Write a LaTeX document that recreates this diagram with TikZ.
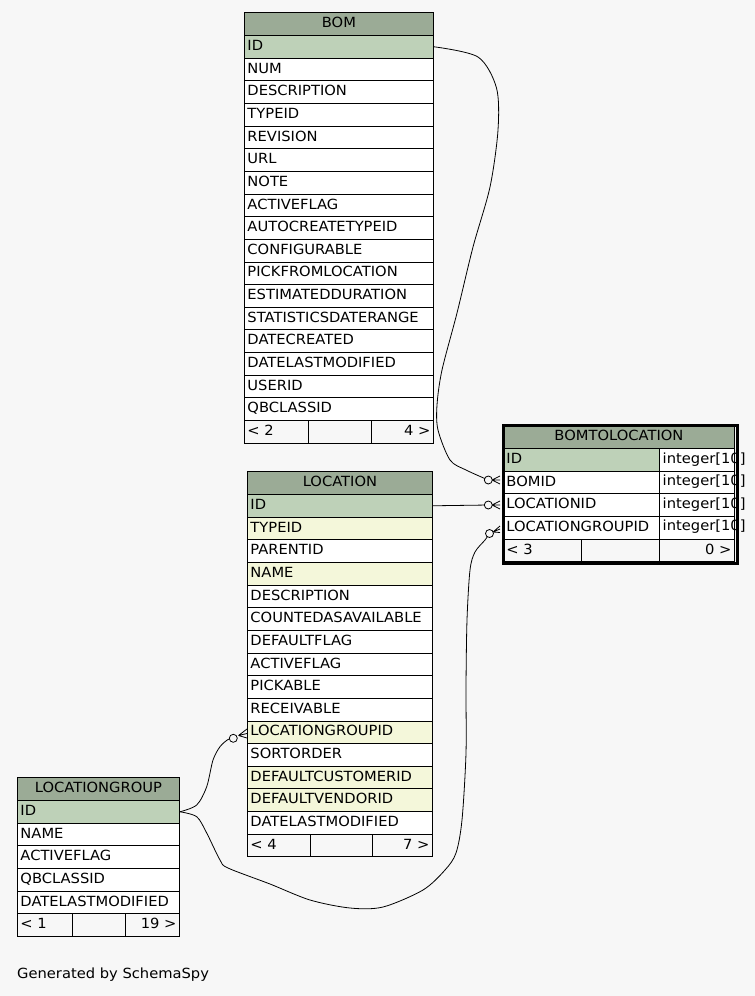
\documentclass[tikz,border=0pt]{standalone}
\usepackage{fontspec}
\setmainfont[FakeStretch=1.05]{DejaVu Sans}
\definecolor{bg}{HTML}{F7F7F7}
\definecolor{hd}{HTML}{9BAB96}
\definecolor{pk}{HTML}{BED1B8}
\definecolor{ix}{HTML}{F4F7DA}
\tikzset{
  txt/.style={font=\fontsize{14}{16}\selectfont},
  cell/.style={txt, draw=black, line width=0.9pt, anchor=north west, inner xsep=3pt, inner ysep=0pt,
    minimum height=22.65pt, text height=10pt, text depth=2.6pt},
  hcell/.style={cell, fill=hd, minimum height=23pt, align=center},
  fcell/.style={cell, fill=bg},
  conn/.style={draw=black, line width=0.8pt},
  odot/.style={circle, draw=black, fill=bg, line width=0.8pt, minimum size=8pt, inner sep=0pt},
  label/.style={txt, anchor=base west, inner sep=0pt},
}
\begin{document}
\begin{tikzpicture}[x=1pt, y=-1pt]
\fill[bg] (0,0) rectangle (755,996);
\useasboundingbox (0,0) rectangle (755,996);

% ---------- BOM ----------
\node[hcell, text width=183pt] (bom-h) at (244,12) {BOM};
\foreach \t/\c [count=\i] in {ID/pk, NUM/white, DESCRIPTION/white, TYPEID/white, REVISION/white, URL/white, NOTE/white, ACTIVEFLAG/white, AUTOCREATETYPEID/white, CONFIGURABLE/white, PICKFROMLOCATION/white, ESTIMATEDDURATION/white, STATISTICSDATERANGE/white, DATECREATED/white, DATELASTMODIFIED/white, USERID/white, QBCLASSID/white}
  \node[cell, fill=\c, text width=183pt, align=left] (bom-\i) at (244,{35+22.65*(\i-1)}) {\t};
\node[fcell, text width=58pt, align=left] (bom-fl) at (244,420) {< 2};
\node[fcell, minimum width=63pt] (bom-fm) at (308,420) {};
\node[fcell, text width=56pt, align=right] (bom-fr) at (371,420) {4 >};

% ---------- LOCATION ----------
\node[hcell, text width=179pt] (loc-h) at (247,471) {LOCATION};
\foreach \t/\c [count=\i] in {ID/pk, TYPEID/ix, PARENTID/white, NAME/ix, DESCRIPTION/white, COUNTEDASAVAILABLE/white, DEFAULTFLAG/white, ACTIVEFLAG/white, PICKABLE/white, RECEIVABLE/white, LOCATIONGROUPID/ix, SORTORDER/white, DEFAULTCUSTOMERID/ix, DEFAULTVENDORID/ix, DATELASTMODIFIED/white}
  \node[cell, fill=\c, text width=179pt, align=left] (loc-\i) at (247,{494+22.65*(\i-1)}) {\t};
\node[fcell, text width=57pt, align=left] (loc-fl) at (247,833.75) {< 4};
\node[fcell, minimum width=62pt] (loc-fm) at (310,833.75) {};
\node[fcell, text width=54pt, align=right] (loc-fr) at (372,833.75) {7 >};

% ---------- LOCATIONGROUP ----------
\node[hcell, text width=156pt] (lg-h) at (17,777) {LOCATIONGROUP};
\foreach \t/\c [count=\i] in {ID/pk, NAME/white, ACTIVEFLAG/white, QBCLASSID/white, DATELASTMODIFIED/white}
  \node[cell, fill=\c, text width=156pt, align=left] (lg-\i) at (17,{800+22.65*(\i-1)}) {\t};
\node[fcell, text width=49pt, align=left] (lg-fl) at (17,913.25) {< 1};
\node[fcell, minimum width=53pt] (lg-fm) at (72,913.25) {};
\node[fcell, text width=48pt, align=right] (lg-fr) at (125,913.25) {19 >};

% ---------- BOMTOLOCATION ----------
\node[hcell, text width=225pt] (btl-h) at (503,425) {BOMTOLOCATION};
\foreach \t/\c [count=\i] in {ID/pk, BOMID/white, LOCATIONID/white, LOCATIONGROUPID/white}
{
  \node[cell, fill=\c, text width=150pt, align=left] (btl-\i) at (503,{448+22.65*(\i-1)}) {\t};
  \node[cell, fill=white, minimum width=75pt] (btl-c\i) at (659,{448+22.65*(\i-1)}) {};
  \node[label] (btl-t\i) at (662.5,{448+22.65*(\i-1)+15}) {integer[10]};
}
\node[fcell, text width=72pt, align=left] (btl-fl) at (503,538.6) {< 3};
\node[fcell, minimum width=78pt] (btl-fm) at (581,538.6) {};
\node[fcell, text width=69pt, align=right] (btl-fr) at (659,538.6) {0 >};
\node[draw=black, line width=3pt, anchor=north west, inner sep=0pt, minimum width=234pt, minimum height=138.5pt] (btl) at (501.5,423.5) {};

% ---------- connectors ----------
\coordinate (o1c) at (488.3,480);
\coordinate (o2c) at (488.3,505);
\coordinate (o3c) at (489.5,533.5);
\coordinate (o4c) at (233.3,738.3);

% BOM.ID -> BOMTOLOCATION.BOMID
\draw[conn] plot[smooth, tension=0.5] coordinates {(bom-1.east) (478,57) (496.5,88) (498,130) (490,187) (473,247) (457,313) (442,370) (437,405) (438,430) (450,460) (466,470) (o1c)};
% LOCATION.ID -> BOMTOLOCATION.LOCATIONID
\draw[conn] (loc-1.east) -- (o2c);
% LOCATIONGROUP.ID -> BOMTOLOCATION.LOCATIONGROUPID
\draw[conn] plot[smooth, tension=0.5] coordinates {(lg-1.east) (196.7,816.7) (206.7,833) (220,860) (228,868) (270,884) (310,900) (350,908) (383,907) (423,890) (445,870) (456,853) (462,820) (466,753) (466,687) (467,620) (470,570) (475,552) (485,540) (o3c)};
% LOCATIONGROUP.ID -> LOCATION.LOCATIONGROUPID
\draw[conn] plot[smooth, tension=0.5] coordinates {(lg-1.east) (196.7,805) (206.7,786.7) (213,760) (220,746.7) (228,739.5) (o4c)};

% crow's feet
\coordinate (k1) at (492,480);
\coordinate (k2) at (492,505);
\coordinate (k3) at (493,532);
\coordinate (k4) at (238.5,735.5);
\draw[conn] (k1) -- (500,476) (k1) -- (500,480) (k1) -- (500,484);
\draw[conn] (k2) -- (500,501) (k2) -- (500,505) (k2) -- (500,509);
\draw[conn] (k3) -- (500,526) (k3) -- (500,529) (k3) -- (500,532.5);
\draw[conn] (k4) -- (247,729) (k4) -- (247,733.5) (k4) -- (247,738);

\node[odot] (o1) at (o1c) {};
\node[odot] (o2) at (o2c) {};
\node[odot] (o3) at (o3c) {};
\node[odot] (o4) at (o4c) {};

\node[label] (gen) at (17,978) {Generated by SchemaSpy};
\end{tikzpicture}
\end{document}
